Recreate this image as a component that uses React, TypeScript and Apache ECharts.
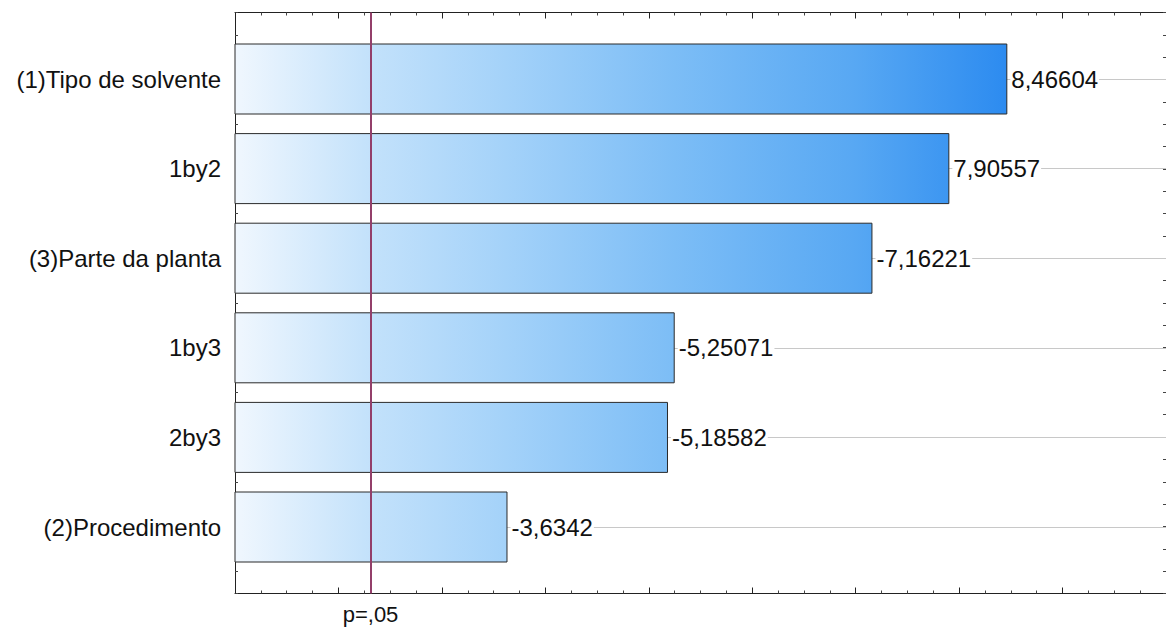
import React, { useEffect, useRef } from "react";
import * as echarts from "echarts";

const categories = [
  "(1)Tipo de solvente",
  "1by2",
  "(3)Parte da planta",
  "1by3",
  "2by3",
  "(2)Procedimento",
];
const effects = [8.46604, 7.90557, -7.16221, -5.25071, -5.18582, -3.6342];
const criticalValue = 2.306;
const criticalLabel = "p=,05";
const xMin = 1;
const xMax = 10;

const FONT = "'Liberation Sans', Arial, sans-serif";

export default function App() {
  const ref = useRef<HTMLDivElement>(null);
  useEffect(() => {
    if (!ref.current) return;
    const chart = echarts.init(ref.current, null, { renderer: "svg" });
    const gradient = new echarts.graphic.LinearGradient(
      235, 0, 1008, 0,
      [
        { offset: 0, color: "#f0f7fe" },
        { offset: 0.17, color: "#c4e2fb" },
        { offset: 0.35, color: "#a4d2f9" },
        { offset: 0.57, color: "#7cbdf6" },
        { offset: 0.8, color: "#58a8f3" },
        { offset: 1, color: "#2c8bf0" },
      ],
      true
    );
    const frameX = (pos: "top" | "bottom") => ({
      type: "value",
      gridIndex: 1,
      position: pos,
      min: xMin,
      max: xMax,
      interval: 1,
      axisLine: { show: true, onZero: false, lineStyle: { color: "#222", width: 1 } },
      axisTick: { show: true, inside: true, length: 6, lineStyle: { color: "#222" } },
      minorTick: { show: true, splitNumber: 4, length: 3, lineStyle: { color: "#444" } },
      axisLabel: { show: false },
      splitLine: { show: false },
    });
    const frameY = (pos: "left" | "right") => ({
      type: "value",
      gridIndex: 1,
      position: pos,
      min: -0.75,
      max: 5.75,
      interval: 0.25,
      axisLine: { show: true, onZero: false, lineStyle: { color: "#222", width: 1 } },
      axisTick: { show: true, inside: true, length: 3, lineStyle: { color: "#444" } },
      axisLabel: { show: false },
      splitLine: { show: false },
    });
    const catY = (pos: "left" | "right", labels: boolean) => ({
      type: "category",
      gridIndex: 0,
      position: pos,
      inverse: true,
      data: categories,
      axisLine: { show: false },
      axisTick: { show: true, inside: true, alignWithLabel: true, length: 6, lineStyle: { color: "#222" } },
      axisLabel: { show: labels, fontSize: 24, color: "#111", fontFamily: FONT, margin: 14 },
      splitLine: { show: false },
    });
    chart.setOption({
      animation: false,
      backgroundColor: "#ffffff",
      textStyle: { fontFamily: FONT },
      grid: [
        { left: 235, right: -1, top: 34.2, height: 537.6 },
        { left: 235, right: -1, top: 12.5, bottom: 36.5 },
      ],
      xAxis: [
        { type: "value", gridIndex: 0, min: xMin, max: xMax, show: false },
        frameX("bottom"),
        frameX("top"),
      ],
      yAxis: [catY("left", true), catY("right", false), frameY("left"), frameY("right")],
      series: [
        {
          type: "line",
          xAxisIndex: 0,
          yAxisIndex: 0,
          z: 1,
          data: [],
          markLine: {
            z: 1,
            silent: true,
            symbol: "none",
            label: { show: false },
            lineStyle: { color: "#c8c8c8", width: 1, type: "solid" },
            data: categories.map((c) => ({ yAxis: c })),
          },
        },
        {
          type: "bar",
          xAxisIndex: 0,
          yAxisIndex: 0,
          z: 3,
          barWidth: 71,
          data: effects.map((v) => Math.abs(v)),
          itemStyle: { color: gradient, borderColor: "#2a2a2a", borderWidth: 1 },
          label: {
            show: true,
            position: "right",
            distance: 3,
            fontSize: 24,
            color: "#111",
            fontFamily: FONT,
            backgroundColor: "#ffffff",
            padding: [0, 1],
            formatter: (p: any) => String(effects[p.dataIndex]).replace(".", ","),
          },
        },
        {
          type: "line",
          xAxisIndex: 1,
          yAxisIndex: 2,
          z: 5,
          data: [],
          markLine: {
            z: 6,
            silent: true,
            symbol: "none",
            lineStyle: { color: "#933f6a", width: 2, type: "solid" },
            label: {
              show: true,
              position: "start",
              distance: 10,
              formatter: criticalLabel,
              fontSize: 22,
              color: "#111",
              fontFamily: FONT,
            },
            data: [{ xAxis: criticalValue }],
          },
        },
      ],
    });
    return () => chart.dispose();
  }, []);
  return (
    <div
      ref={ref}
      style={{ position: "absolute", left: 0, top: 0, width: 1166, height: 630 }}
    />
  );
}
